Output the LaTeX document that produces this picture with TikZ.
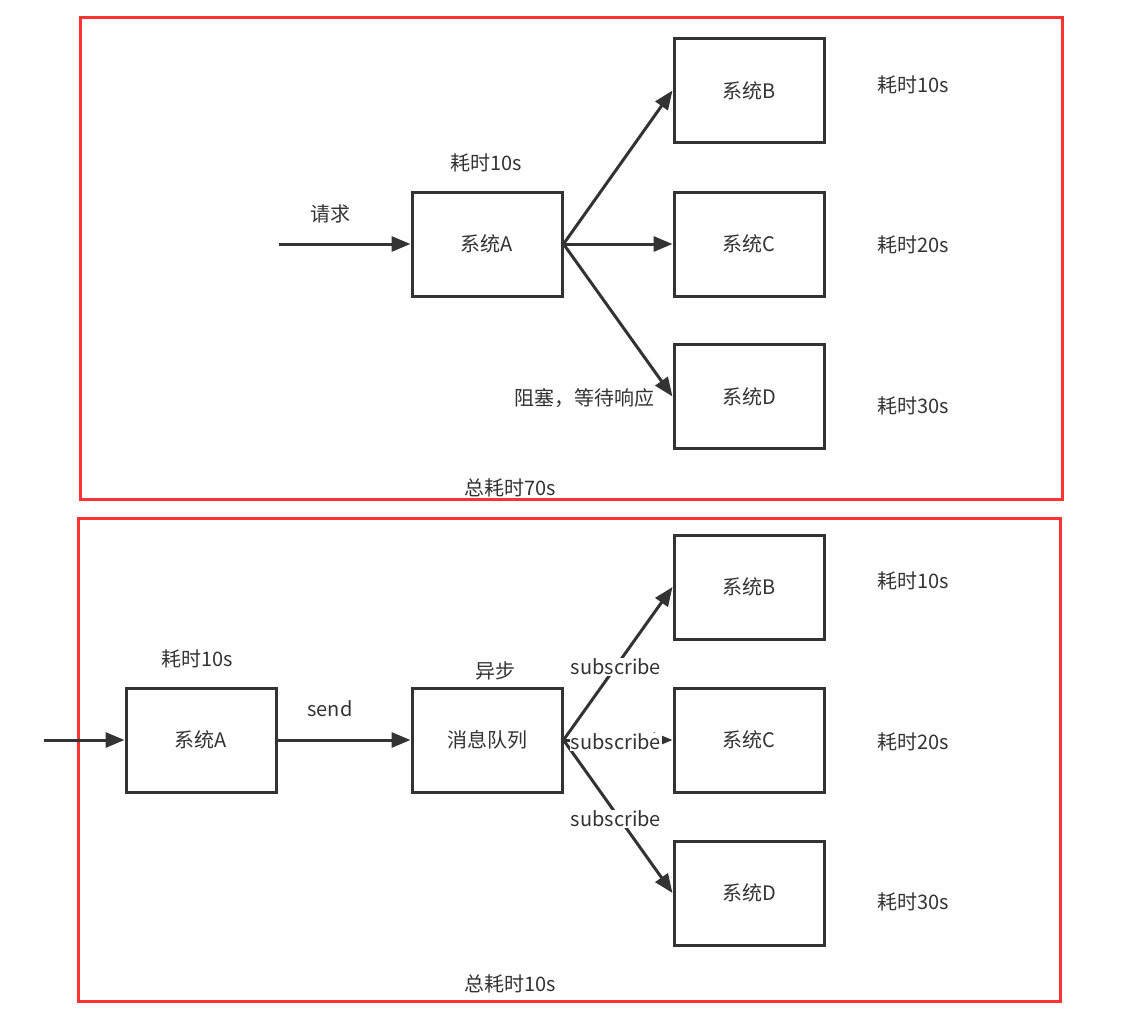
\documentclass[tikz,border=0pt]{standalone}
\usepackage{fontspec}
\setmainfont{Noto Sans CJK SC}
\usetikzlibrary{arrows.meta}
\definecolor{ink}{HTML}{333333}
\definecolor{frame}{HTML}{FF3333}
\begin{document}
\begin{tikzpicture}[x=1pt,y=-1pt,
  sysbox/.style={draw=ink,line width=3pt,minimum width=150pt,minimum height=104pt,
    inner sep=0pt,font=\fontsize{20}{24}\selectfont,text=ink},
  lbl/.style={font=\fontsize{20}{24}\selectfont,text=ink,inner sep=1pt},
  sub/.style={lbl,fill=white,inner sep=1pt},
  conn/.style={draw=ink,line width=3pt,-{Triangle[length=19pt,width=15pt]}},
  group/.style={draw=frame,line width=3pt}]
\useasboundingbox (0,0) rectangle (1129,1026);

% upper panel: synchronous calls
\draw[group] (80,17) rectangle (1062,499);
\node[sysbox] (a1) at (487,244) {系统A};
\node[sysbox] (b1) at (749,90.5) {系统B};
\node[sysbox] (c1) at (749,244) {系统C};
\node[sysbox] (d1) at (749,396.5) {系统D};
\coordinate (in1) at (279,244);
\draw[conn] (in1) -- (a1.west);
\draw[conn] (a1.east) -- (b1.west);
\draw[conn] (a1.east) -- (c1.west);
\draw[conn] (a1.east) -- (d1.west);
\node[lbl] (req) at (330,214) {请求};
\node[lbl] (ta1) at (486,163) {耗时10s};
\node[lbl] (blk) at (584,398) {阻塞，等待响应};
\node[lbl] (tb1) at (913,85) {耗时10s};
\node[lbl] (tc1) at (913,245) {耗时20s};
\node[lbl] (td1) at (913,406) {耗时30s};
\node[lbl] (tot1) at (510,488) {总耗时70s};

% lower panel: asynchronous via message queue
\draw[group] (78,518) rectangle (1060,1001);
\node[sysbox] (a2) at (201,740) {系统A};
\node[sysbox] (mq) at (487,740) {消息队列};
\node[sysbox] (b2) at (749,587) {系统B};
\node[sysbox] (c2) at (749,740) {系统C};
\node[sysbox] (d2) at (749,893) {系统D};
\coordinate (in2) at (44,740);
\draw[conn] (in2) -- (a2.west);
\draw[conn] (a2.east) -- (mq.west);
\draw[conn] (mq.east) -- (b2.west);
\draw[conn] (mq.east) -- (c2.west);
\draw[conn] (mq.east) -- (d2.west);
\node[lbl] (snd) at (330,709) {send};
\node[sub] (s1) at (616,667) {subscribe};
\node[sub] (s2) at (616,742) {subscribe};
\node[sub] (s3) at (616,819) {subscribe};
\node[lbl] (ta2) at (197,659) {耗时10s};
\node[lbl] (asy) at (495,671) {异步};
\node[lbl] (tb2) at (913,581) {耗时10s};
\node[lbl] (tc2) at (913,742) {耗时20s};
\node[lbl] (td2) at (913,902) {耗时30s};
\node[lbl] (tot2) at (510,984) {总耗时10s};
\end{tikzpicture}
\end{document}
